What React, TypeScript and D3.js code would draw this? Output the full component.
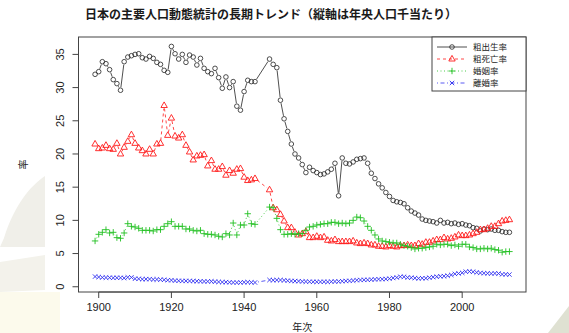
import React from 'react';
import * as d3 from 'd3';

// 年次 (1944〜1946年は欠測)
const years = [
  1899, 1900, 1901, 1902, 1903, 1904, 1905, 1906, 1907, 1908,
  1909, 1910, 1911, 1912, 1913, 1914, 1915, 1916, 1917, 1918,
  1919, 1920, 1921, 1922, 1923, 1924, 1925, 1926, 1927, 1928,
  1929, 1930, 1931, 1932, 1933, 1934, 1935, 1936, 1937, 1938,
  1939, 1940, 1941, 1942, 1943,
  1947, 1948, 1949, 1950, 1951, 1952, 1953, 1954, 1955, 1956,
  1957, 1958, 1959, 1960, 1961, 1962, 1963, 1964, 1965, 1966,
  1967, 1968, 1969, 1970, 1971, 1972, 1973, 1974, 1975, 1976,
  1977, 1978, 1979, 1980, 1981, 1982, 1983, 1984, 1985, 1986,
  1987, 1988, 1989, 1990, 1991, 1992, 1993, 1994, 1995, 1996,
  1997, 1998, 1999, 2000, 2001, 2002, 2003, 2004, 2005, 2006,
  2007, 2008, 2009, 2010, 2011, 2012, 2013,
];

const birthRate = [
  32.0, 32.4, 33.9, 33.6, 32.7, 31.2, 30.6, 29.6, 33.9, 34.6,
  34.8, 35.0, 35.1, 34.5, 34.3, 34.7, 34.4, 33.8, 33.5, 32.6,
  32.3, 36.2, 35.1, 34.3, 35.0, 33.8, 34.9, 34.6, 33.4, 34.4,
  32.9, 32.4, 32.1, 32.9, 31.5, 29.9, 31.6, 30.0, 30.9, 27.2,
  26.6, 29.4, 31.1, 30.9, 30.9,
  34.3, 33.5, 33.0, 28.1, 25.3, 23.4, 21.5, 20.0, 19.4, 18.4,
  17.2, 18.0, 17.5, 17.2, 16.9, 17.0, 17.3, 17.7, 18.6, 13.7,
  19.4, 18.6, 18.5, 18.8, 19.2, 19.3, 19.4, 18.6, 17.1, 16.3,
  15.5, 14.9, 14.2, 13.6, 13.0, 12.8, 12.7, 12.5, 11.9, 11.4,
  11.1, 10.8, 10.2, 10.0, 9.9, 9.8, 9.6, 10.0, 9.6, 9.7,
  9.5, 9.6, 9.4, 9.5, 9.3, 9.2, 8.9, 8.8, 8.4, 8.7,
  8.6, 8.7, 8.5, 8.5, 8.3, 8.2, 8.2,
];

const deathRate = [
  21.5, 20.8, 20.9, 21.3, 20.8, 20.7, 21.6, 20.0, 21.0, 21.9,
  22.9, 21.6, 20.9, 20.5, 20.0, 20.7, 20.0, 21.5, 21.6, 27.3,
  22.8, 25.4, 22.7, 22.4, 22.9, 21.3, 20.3, 19.1, 19.7, 19.8,
  19.9, 18.2, 19.0, 17.7, 17.7, 18.1, 16.8, 17.5, 17.1, 17.7,
  17.8, 16.5, 16.0, 16.1, 16.3,
  14.6, 11.9, 11.6, 10.9, 9.9, 8.9, 8.9, 8.2, 7.8, 8.0,
  8.3, 7.4, 7.4, 7.6, 7.4, 7.5, 7.0, 6.9, 7.1, 6.8,
  6.8, 6.8, 6.8, 6.9, 6.6, 6.5, 6.6, 6.5, 6.3, 6.3,
  6.1, 6.1, 6.0, 6.2, 6.1, 6.0, 6.2, 6.2, 6.3, 6.2,
  6.2, 6.5, 6.4, 6.7, 6.7, 6.9, 7.1, 7.1, 7.4, 7.2,
  7.3, 7.5, 7.8, 7.7, 7.7, 7.8, 8.0, 8.2, 8.6, 8.6,
  8.8, 9.1, 9.1, 9.5, 9.9, 10.0, 10.1,
];

const marriageRate = [
  6.9, 7.9, 8.2, 8.6, 8.1, 8.2, 7.4, 7.3, 8.1, 9.5,
  9.1, 9.0, 8.8, 8.5, 8.5, 8.5, 8.4, 8.6, 8.6, 9.1,
  9.5, 9.8, 9.1, 9.1, 9.1, 8.7, 8.7, 8.5, 8.4, 8.5,
  8.0, 7.9, 7.9, 7.8, 7.6, 7.5, 8.0, 7.8, 9.6, 7.8,
  9.3, 9.3, 11.0, 9.5, 9.4,
  12.0, 11.9, 10.3, 8.6, 7.9, 7.9, 8.0, 7.9, 8.0, 8.0,
  8.5, 9.0, 9.1, 9.3, 9.4, 9.5, 9.5, 9.7, 9.7, 9.5,
  9.6, 9.5, 9.6, 10.0, 10.5, 10.4, 9.9, 9.1, 8.5, 7.8,
  7.2, 6.9, 6.8, 6.7, 6.6, 6.6, 6.4, 6.2, 6.1, 5.9,
  5.7, 5.8, 5.8, 5.9, 6.0, 6.1, 6.4, 6.3, 6.4, 6.4,
  6.2, 6.3, 6.1, 6.4, 6.4, 6.0, 5.9, 5.7, 5.7, 5.8,
  5.7, 5.8, 5.6, 5.5, 5.2, 5.3, 5.3,
];

const divorceRate = [
  1.53, 1.46, 1.40, 1.38, 1.37, 1.34, 1.35, 1.35, 1.31, 1.42,
  1.41, 1.21, 1.19, 1.14, 1.15, 1.15, 1.10, 1.10, 1.07, 1.05,
  0.99, 0.99, 0.92, 0.90, 0.87, 0.88, 0.87, 0.86, 0.84, 0.83,
  0.80, 0.80, 0.81, 0.76, 0.73, 0.70, 0.70, 0.67, 0.64, 0.63,
  0.64, 0.68, 0.69, 0.65, 0.64,
  1.02, 0.99, 1.01, 1.01, 0.97, 0.92, 0.87, 0.86, 0.84, 0.80,
  0.78, 0.76, 0.74, 0.74, 0.74, 0.75, 0.73, 0.77, 0.79, 0.80,
  0.84, 0.87, 0.89, 0.93, 0.99, 1.02, 1.04, 1.04, 1.07, 1.11,
  1.14, 1.15, 1.17, 1.22, 1.32, 1.39, 1.51, 1.50, 1.39, 1.37,
  1.30, 1.26, 1.29, 1.28, 1.37, 1.45, 1.52, 1.57, 1.60, 1.66,
  1.78, 1.94, 2.00, 2.10, 2.27, 2.30, 2.25, 2.15, 2.08, 2.04,
  2.02, 1.99, 2.01, 1.99, 1.87, 1.87, 1.84,
];

const seriesNames = ['粗出生率', '粗死亡率', '婚姻率', '離婚率'];
const xTicks = [1900, 1920, 1940, 1960, 1980, 2000];
const yTicks = [0, 5, 10, 15, 20, 25, 30, 35];

const W = 569;
const H = 333;
const FONT = '"Liberation Sans", Arial, sans-serif';
const CJK = '"Noto Sans CJK JP", sans-serif';

// R の plot と同じく 4% 余白を取った範囲
const x = d3.scaleLinear().domain([1894.44, 2017.56]).range([78.5, 526]);
const y = d3.scaleLinear().domain([-0.79, 37.62]).range([292, 37]);

const styles = [
  { values: birthRate, color: '#222222', dash: 'none', marker: 'circle' },
  { values: deathRate, color: '#ff1a1a', dash: '3,3', marker: 'triangle' },
  { values: marriageRate, color: '#1fbf1f', dash: '1,2.5', marker: 'plus' },
  { values: divorceRate, color: '#3030f0', dash: '1,2.5,4,2.5', marker: 'cross' },
];

const markerPath: Record<string, string> = {
  triangle: 'M0,-3.6L3.2,2L-3.2,2Z',
  plus: 'M-3.2,0H3.2M0,-3.2V3.2',
  cross: 'M-2.2,-2.2L2.2,2.2M-2.2,2.2L2.2,-2.2',
};

// type="b": 点の周りを空けて線分を描く
function gapPath(pts: [number, number][], gap: number) {
  let d = '';
  for (let i = 1; i < pts.length; i++) {
    const [x1, y1] = pts[i - 1];
    const [x2, y2] = pts[i];
    const dx = x2 - x1, dy = y2 - y1;
    const len = Math.hypot(dx, dy);
    if (len <= gap * 2) continue;
    const ux = dx / len, uy = dy / len;
    d += `M${x1 + ux * gap},${y1 + uy * gap}L${x2 - ux * gap},${y2 - uy * gap}`;
  }
  return d;
}

const Marker = ({ type, cx, cy, color }: { type: string; cx: number; cy: number; color: string }) =>
  type === 'circle' ? (
    <circle cx={cx} cy={cy} r={2.3} fill="none" stroke={color} strokeWidth={0.8} />
  ) : (
    <path d={markerPath[type]} transform={`translate(${cx},${cy})`} fill="none" stroke={color} strokeWidth={0.9} />
  );

export default function App() {
  const [x0, x1] = x.range();
  const [yb, yt] = y.range();
  const legendX = 432;
  const legendRows = [47, 59, 71, 83];

  return (
    <svg width={W} height={H} style={{ position: 'absolute', left: 0, top: 0, background: '#fff' }}>
      {/* 背景の透かし */}
      <path d="M45,176C30,186 14,206 4,238L0,247L45,247Z" fill="#f0efe9" />
      <path d="M0,262L45,255L45,290L0,292Z" fill="#f3f2eb" />
      <rect x={0} y={292} width={60} height={41} fill="#fcfaec" />
      <path d="M548,333L569,306L569,333Z" fill="#dfe1d2" />

      <text x={271} y={19} textAnchor="middle" fontFamily={CJK} fontSize={12} fontWeight="bold" fill="#1a1a1a">
        日本の主要人口動態統計の長期トレンド（縦軸は年央人口千当たり）
      </text>

      {styles.map((s, si) => {
        const pts = years.map((yr, i) => [x(yr), y(s.values[i])] as [number, number]);
        return (
          <g key={si}>
            <path d={gapPath(pts, 3)} fill="none" stroke={s.color} strokeWidth={0.8} strokeDasharray={s.dash} />
            {pts.map(([cx, cy], i) => (
              <Marker key={i} type={s.marker} cx={cx} cy={cy} color={s.color} />
            ))}
          </g>
        );
      })}

      <rect x={x0} y={yt} width={x1 - x0} height={yb - yt} fill="none" stroke="#444" strokeWidth={1} />

      {/* x 軸 */}
      <line x1={x(xTicks[0])} x2={x(xTicks[xTicks.length - 1])} y1={yb} y2={yb} stroke="#444" />
      {xTicks.map(t => (
        <g key={t}>
          <line x1={x(t)} x2={x(t)} y1={yb} y2={yb + 6} stroke="#444" />
          <text x={x(t)} y={yb + 19} textAnchor="middle" fontFamily={FONT} fontSize={11} fill="#222">{t}</text>
        </g>
      ))}
      {/* y 軸 */}
      {yTicks.map(t => (
        <g key={t}>
          <line x1={x0 - 6} x2={x0} y1={y(t)} y2={y(t)} stroke="#444" />
          <text transform={`translate(${x0 - 15},${y(t)}) rotate(-90)`} textAnchor="middle" fontFamily={FONT} fontSize={11} fill="#222">{t}</text>
        </g>
      ))}

      <text transform={`translate(27,${(yb + yt) / 2}) rotate(-90)`} textAnchor="middle" fontFamily={CJK} fontSize={10} fill="#222">率</text>
      <text x={(x0 + x1) / 2} y={331} textAnchor="middle" fontFamily={CJK} fontSize={10} fill="#222">年次</text>

      {/* 凡例 */}
      <rect x={legendX} y={yt} width={x1 - legendX} height={54} fill="#fff" stroke="#444" strokeWidth={1} />
      {styles.map((s, i) => (
        <g key={i}>
          <line x1={legendX + 5} x2={legendX + 35} y1={legendRows[i]} y2={legendRows[i]} stroke={s.color} strokeWidth={0.8} strokeDasharray={s.dash} />
          <Marker type={s.marker} cx={legendX + 20} cy={legendRows[i]} color={s.color} />
          <text x={legendX + 41} y={legendRows[i] + 3} fontFamily={CJK} fontSize={8.5} fill="#222">{seriesNames[i]}</text>
        </g>
      ))}
    </svg>
  );
}
